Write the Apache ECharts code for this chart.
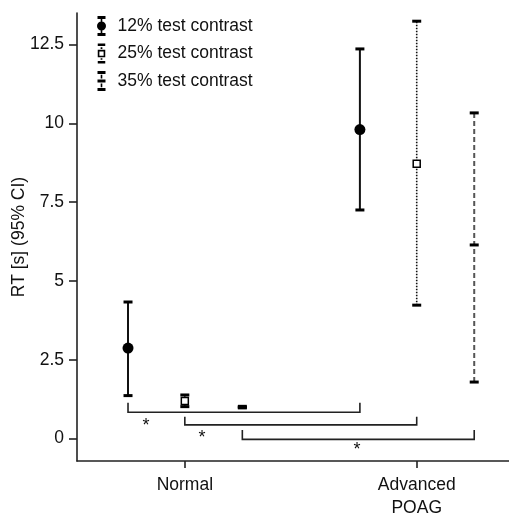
<!DOCTYPE html>
<html lang="en">
<head>
    <meta charset="UTF-8">
    <title>RT by group and contrast</title>
    <script src="https://cdn.jsdelivr.net/npm/echarts@6/dist/echarts.min.js"></script>
    <style>
        body, html { margin: 0; padding: 0; width: 100%; height: 100%; background: #fff; }
        #chart { width: 509px; height: 515px; }
    </style>
</head>
<body>
<div id="chart"></div>
<script>
    // groups on x (value axis: 1 = Normal, 2 = Advanced POAG)
    const groups = ['Normal', 'Advanced\nPOAG'];
    const groupX = [1, 2];
    const offsets = [-0.245, 0, 0.248];
    const seriesNames = ['12% test contrast', '25% test contrast', '35% test contrast'];

    // mean and 95% CI per group (Normal, Advanced POAG)
    const mean12 = [2.87, 9.80];
    const low12 = [1.36, 7.25];
    const high12 = [4.33, 12.36];

    const mean25 = [1.19, 8.72];
    const low25 = [1.01, 4.23];
    const high25 = [1.38, 13.24];

    const mean35 = [0.99, 6.14];
    const low35 = [0.97, 1.79];
    const high35 = [1.02, 10.33];

    // significance brackets: contrast index, bar level, arm top
    const bracketSeries = [0, 1, 2];
    const bracketY = [0.83, 0.43, -0.03];
    const bracketTop = [1.13, 0.69, 0.27];
    const starX = [0.833, 1.074, 1.742];
    const starY = [0.48, 0.11, -0.26];

    const yTicks = [0, 2.5, 5, 7.5, 10, 12.5];

    const FONT = '"Liberation Sans", Arial, sans-serif';

    const chart = echarts.init(document.getElementById('chart'));

    function errorBar(marker, lineStyle) {
        return function (params, api) {
            const x = api.value(0);
            const pLo = api.coord([x, api.value(1)]);
            const pHi = api.coord([x, api.value(2)]);
            const pM = api.coord([x, api.value(3)]);
            const children = [
                { type: 'line', shape: { x1: pLo[0], y1: pLo[1], x2: pHi[0], y2: pHi[1] }, style: lineStyle },
                { type: 'rect', shape: { x: pHi[0] - 4.5, y: pHi[1] - 1.5, width: 9, height: 3 }, style: { fill: '#000' } },
                { type: 'rect', shape: { x: pLo[0] - 4.5, y: pLo[1] - 1.5, width: 9, height: 3 }, style: { fill: '#000' } }
            ];
            if (marker === 'circle') {
                children.push({ type: 'circle', shape: { cx: pM[0], cy: pM[1], r: 5.5 }, style: { fill: '#000' } });
            } else if (marker === 'square') {
                children.push({ type: 'rect', shape: { x: pM[0] - 3.5, y: pM[1] - 3.5, width: 7, height: 7 }, style: { fill: '#fff', stroke: '#000', lineWidth: 1.5 } });
            } else {
                children.push({ type: 'rect', shape: { x: pM[0] - 4.5, y: pM[1] - 1.5, width: 9, height: 3 }, style: { fill: '#000' } });
            }
            return { type: 'group', children: children };
        };
    }

    function rows(k, mean, low, high) {
        return groupX.map((g, i) => [g + offsets[k], low[i], high[i], mean[i]]);
    }

    const icons = [
        'path://M1 0H9V3H1Z M4.2 3H5.8V6H4.2Z M0.5 10A4.5 4.5 0 1 1 9.5 10A4.5 4.5 0 1 1 0.5 10Z M4.2 14H5.8V17H4.2Z M1 17H9V20H1Z',
        'path://M2 2H8V4H2Z M4.3 5H5.7V6.3H4.3Z M2 7H8V13H2Z M3.3 8.3V11.7H6.7V8.3Z M4.3 13.7H5.7V15H4.3Z M2 16H8V18H2Z',
        'path://M1 0H9V3H1Z M4.2 3.8H5.8V7.6H4.2Z M1 8.5H9V11.5H1Z M4.2 12.4H5.8V16.2H4.2Z M1 17H9V20H1Z'
    ];

    const bracketData = bracketSeries.map((k, i) => [groupX[0] + offsets[k], groupX[1] + offsets[k], bracketY[i], bracketTop[i]]);

    const option = {
        animation: false,
        grid: { left: 77, right: 0, top: 13, bottom: 54, outerBoundsMode: 'none', containLabel: false },
        legend: {
            orient: 'vertical',
            left: 92,
            top: 11,
            itemWidth: 10,
            itemHeight: 20,
            itemGap: 7.5,
            selectedMode: false,
            textStyle: { fontFamily: FONT, fontSize: 17.5, color: '#111', padding: [0, 0, 0, 6] },
            data: seriesNames.map((n, i) => ({ name: n, icon: icons[i] }))
        },
        xAxis: {
            type: 'value',
            min: 0.535,
            max: 2.398,
            splitLine: { show: false },
            axisLine: { show: true, onZero: false, lineStyle: { color: '#222', width: 1.6 } },
            axisTick: { show: true, length: 7, customValues: groupX, lineStyle: { color: '#222', width: 1.6 } },
            axisLabel: {
                customValues: groupX,
                formatter: v => groups[groupX.indexOf(v)] || '',
                fontFamily: FONT, fontSize: 17.5, color: '#111', margin: 13, lineHeight: 23
            }
        },
        yAxis: {
            type: 'value',
            min: -0.715,
            max: 13.5,
            name: 'RT [s] (95% CI)',
            nameLocation: 'middle',
            nameGap: 49,
            nameMoveOverlap: false,
            nameTextStyle: { fontFamily: FONT, fontSize: 17.5, color: '#111' },
            splitLine: { show: false },
            axisLine: { show: true, onZero: false, lineStyle: { color: '#222', width: 1.6 } },
            axisTick: { show: true, length: 8, customValues: yTicks, lineStyle: { color: '#222', width: 1.6 } },
            axisLabel: { customValues: yTicks, fontFamily: FONT, fontSize: 17.5, color: '#111', margin: 13 }
        },
        series: [
            {
                name: seriesNames[0], type: 'custom', itemStyle: { color: '#000' },
                renderItem: errorBar('circle', { stroke: '#111', lineWidth: 2 }),
                data: rows(0, mean12, low12, high12)
            },
            {
                name: seriesNames[1], type: 'custom', itemStyle: { color: '#000' },
                renderItem: errorBar('square', { stroke: '#111', lineWidth: 1.6, lineDash: [1.5, 1.5] }),
                data: rows(1, mean25, low25, high25)
            },
            {
                name: seriesNames[2], type: 'custom', itemStyle: { color: '#000' },
                renderItem: errorBar('dash', { stroke: '#555', lineWidth: 2, lineDash: [5, 3] }),
                data: rows(2, mean35, low35, high35)
            },
            {
                type: 'custom',
                renderItem: function (params, api) {
                    const a = api.coord([api.value(0), api.value(2)]);
                    const b = api.coord([api.value(1), api.value(2)]);
                    const t = api.coord([api.value(0), api.value(3)]);
                    return {
                        type: 'polyline',
                        shape: { points: [[a[0], t[1]], a, b, [b[0], t[1]]] },
                        style: { stroke: '#222', lineWidth: 1.6, fill: null }
                    };
                },
                data: bracketData
            },
            {
                type: 'custom',
                renderItem: function (params, api) {
                    const p = api.coord([api.value(0), api.value(1)]);
                    return {
                        type: 'text',
                        x: p[0], y: p[1] + 3,
                        style: { text: '*', fontFamily: FONT, fontSize: 18, fill: '#111', align: 'center', verticalAlign: 'middle' }
                    };
                },
                data: starX.map((x, i) => [x, starY[i]])
            }
        ]
    };

    chart.setOption(option);
</script>
</body>
</html>
